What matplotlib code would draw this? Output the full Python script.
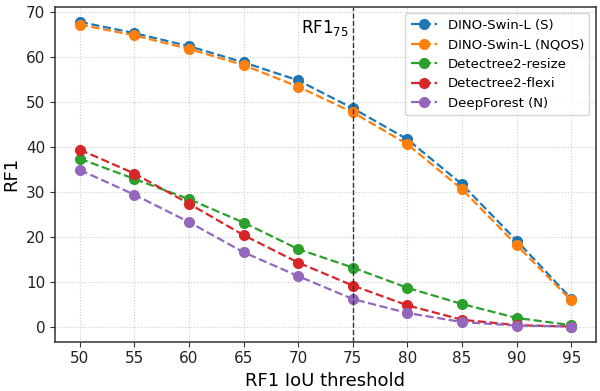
import matplotlib.pyplot as plt

thresholds = [50, 55, 60, 65, 70, 75, 80, 85, 90, 95]

dino_s = [67.7, 65.2, 62.3, 58.7, 54.7, 48.5, 41.6, 31.6, 19.1, 6.2]
dino_nqos = [67.1, 64.7, 61.7, 58.1, 53.3, 47.6, 40.5, 30.5, 18.1, 5.8]
dt_resize = [37.3, 32.8, 28.3, 23.1, 17.2, 13.1, 8.6, 5.0, 1.9, 0.3]
dt_flexi = [39.3, 34.0, 27.3, 20.3, 14.2, 9.1, 4.7, 1.5, 0.3, 0.0]
deepforest = [34.8, 29.3, 23.2, 16.5, 11.2, 6.1, 3.0, 1.0, 0.2, 0.0]

labels = ["DINO-Swin-L (S)", "DINO-Swin-L (NQOS)", "Detectree2-resize",
          "Detectree2-flexi", "DeepForest (N)"]
series = [dino_s, dino_nqos, dt_resize, dt_flexi, deepforest]
colors = ["#1f77b4", "#ff7f0e", "#2ca02c", "#d62728", "#9467bd"]

fig, ax = plt.subplots(figsize=(6, 3.91), dpi=100)

for vals, lab, c in zip(series, labels, colors):
    ax.plot(thresholds, vals, linestyle="--", marker="o", markersize=7,
            linewidth=1.6, color=c, label=lab)

# RF1_75 marker line
ax.axvline(75, color="#333333", linestyle="--", linewidth=1)
ax.text(74.6, 66.4, "RF1$_{75}$", ha="right", va="center", fontsize=12)

ax.set_xticks(thresholds)
ax.tick_params(labelsize=11, color="#333333", labelcolor="#222222")
ax.set_xlabel("RF1 IoU threshold", fontsize=13)
ax.set_ylabel("RF1", fontsize=13)
ax.grid(True, linestyle=":", color="#cccccc")
for s in ax.spines.values():
    s.set_color("#333333")
    s.set_linewidth(1.1)
ax.legend(loc="upper right", fontsize=9.5, handlelength=2)

fig.subplots_adjust(left=0.092, right=0.993, top=0.983, bottom=0.126)
fig.savefig("out.png")
